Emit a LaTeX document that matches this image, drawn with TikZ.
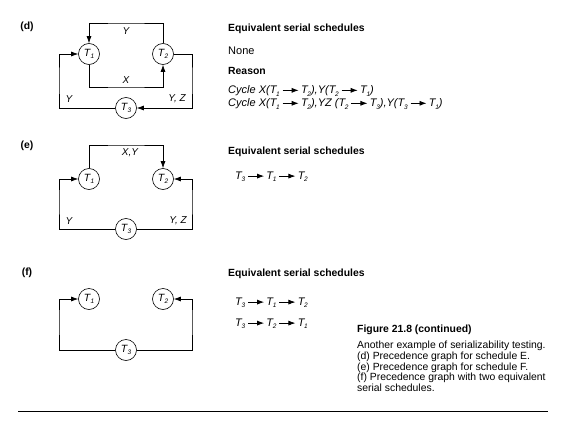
\documentclass[tikz,border=0pt]{standalone}
\usepackage{fontspec}
\setmainfont{Liberation Sans}
\usetikzlibrary{arrows.meta,calc}
\newcommand{\Tn}[1]{\textit{T}\kern-0.3pt\raisebox{-0.4ex}{\fontsize{6.5}{6.5}\selectfont\itshape #1}}
\newcommand{\sarr}{\kern2.5pt\tikz[baseline=-0.6ex]\draw[line width=0.75pt,-{Latex[length=7pt,width=5pt]}] (0,0)--(16pt,0);\kern2pt}
\begin{document}
\begin{tikzpicture}[x=1pt,y=-1pt,
  tnode/.style={circle,draw,line width=0.6pt,minimum size=21pt,inner sep=0pt,font=\fontsize{10.5}{10.5}\selectfont},
  arr/.style={line width=0.7pt,-{Latex[length=7pt,width=5pt]}},
  elab/.style={font=\fontsize{10}{10}\selectfont\itshape,inner sep=0pt},
  plab/.style={font=\fontsize{10.4}{10.4}\selectfont\bfseries,inner sep=0pt},
  head/.style={font=\fontsize{10.4}{10.4}\selectfont\bfseries,anchor=west,inner sep=0pt},
  body/.style={font=\fontsize{11}{11}\selectfont,anchor=west,inner sep=0pt}]
\useasboundingbox (0,0) rectangle (567,428);
% ---------- (d)
\node[plab] (dlab) at (27,27) {(d)};
\node[tnode] (dT1) at (89,54) {\Tn{1}};
\node[tnode] (dT2) at (163,54) {\Tn{2}};
\node[tnode] (dT3) at (126,108) {\Tn{3}};
\coordinate (dY) at (126,23);
\coordinate (dX) at (126,87);
\coordinate (dL) at (59,80);
\coordinate (dR) at (192,80);
\draw[arr] (dT2.north) |- (dY) -| (dT1.north);
\draw[arr] (dT1.south) |- (dX) -| (dT2.south);
\draw[arr] (dT3.west) -| (dL) |- (dT1.west);
\draw[arr] (dT2.east) -| (dR) |- (dT3.east);
\node[elab] (dyl) at (126,31) {Y};
\node[elab] (dxl) at (126,80) {X};
\node[elab] (dll) at (69,99) {Y};
\node[elab] (drl) at (177,99) {Y, Z};
\node[head] (dh) at (228,29) {Equivalent serial schedules};
\node[body] (dn) at (228,51) {None};
\node[head] (dr) at (228,71) {Reason};
\node[body] (dc1) at (228,91) {\itshape Cycle X(\Tn{1}\sarr\Tn{2}),Y(\Tn{2}\sarr\Tn{1})};
\node[body] (dc2) at (228,104) {\itshape Cycle X(\Tn{1}\sarr\Tn{2}),YZ (\Tn{2}\sarr\Tn{3}),Y(\Tn{3}\sarr\Tn{1})};
% ---------- (e)
\node[plab] (elab) at (27,146) {(e)};
\node[tnode] (eT1) at (89,179) {\Tn{1}};
\node[tnode] (eT2) at (163,179) {\Tn{2}};
\node[tnode] (eT3) at (126,229) {\Tn{3}};
\coordinate (eXY) at (126,145);
\coordinate (eL) at (59,200);
\coordinate (eR) at (192,200);
\draw[arr] (eT1.north) |- (eXY) -| (eT2.north);
\draw[arr] (eT3.west) -| (eL) |- (eT1.west);
\draw[arr] (eT3.east) -| (eR) |- (eT2.east);
\node[elab] (exy) at (130,153) {X,Y};
\node[elab] (ell) at (69,221) {Y};
\node[elab] (erl) at (178,221) {Y, Z};
\node[head] (eh) at (228,152) {Equivalent serial schedules};
\node[body] (es) at (235,177) {\itshape\Tn{3}\sarr\Tn{1}\sarr\Tn{2}};
% ---------- (f)
\node[plab] (flab) at (27,273) {(f)};
\node[tnode] (fT1) at (89,299) {\Tn{1}};
\node[tnode] (fT2) at (163,299) {\Tn{2}};
\node[tnode] (fT3) at (126,350) {\Tn{3}};
\coordinate (fL) at (59,320);
\coordinate (fR) at (192,320);
\draw[arr] (fT3.west) -| (fL) |- (fT1.west);
\draw[arr] (fT3.east) -| (fR) |- (fT2.east);
\node[head] (fh) at (228,274) {Equivalent serial schedules};
\node[body] (fs1) at (235,303) {\itshape\Tn{3}\sarr\Tn{1}\sarr\Tn{2}};
\node[body] (fs2) at (235,324) {\itshape\Tn{3}\sarr\Tn{2}\sarr\Tn{1}};
\node[font=\fontsize{10.4}{10.4}\selectfont\bfseries,anchor=west,inner sep=0pt] (cap) at (357,330) {Figure 21.8 (continued)};
\node[font=\fontsize{10.4}{10.7}\selectfont,anchor=north west,align=left,inner sep=0pt] (capt) at (357,341) {Another example of serializability testing.\\(d) Precedence graph for schedule E.\\(e) Precedence graph for schedule F.\\(f) Precedence graph with two equivalent\\serial schedules.};
\coordinate (r1) at (18,411);
\coordinate (r2) at (548,411);
\draw[line width=0.8pt] (r1) -- (r2);
\end{tikzpicture}
\end{document}
